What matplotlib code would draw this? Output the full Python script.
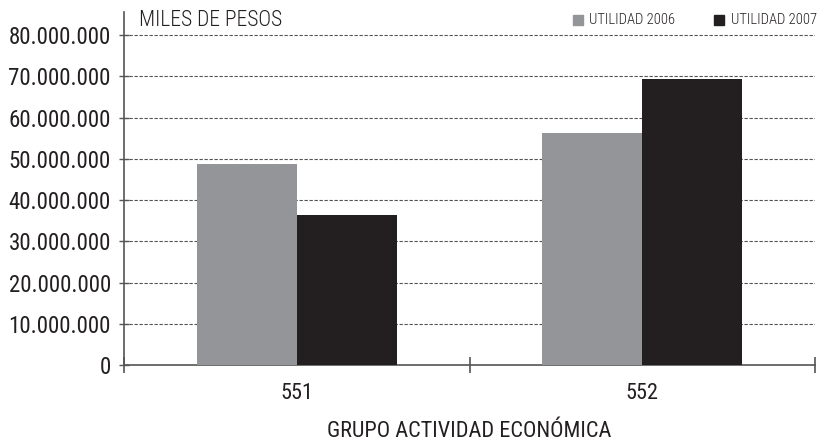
import matplotlib
matplotlib.use("Agg")
import matplotlib.pyplot as plt
from matplotlib.ticker import FuncFormatter, FixedLocator
from matplotlib.patches import Rectangle

categories = ["551", "552"]
series_names = ["UTILIDAD 2006", "UTILIDAD 2007"]
utilidad_2006 = [48700000, 56200000]
utilidad_2007 = [36400000, 69300000]
y_ticks = [0, 10000000, 20000000, 30000000, 40000000, 50000000, 60000000, 70000000, 80000000]
colors = ["#939598", "#231f20"]

FONT = ["Roboto Condensed", "DejaVu Sans"]
plt.rcParams['font.family'] = FONT
plt.rcParams['font.weight'] = 'light'

fig = plt.figure(figsize=(8.19, 4.42), dpi=100)
ax = fig.add_axes([124/819, 1 - 365/442, (815-124)/819, (365-12)/442])

x = list(range(len(categories)))
w = 0.29
ax.bar([i - w/2 for i in x], utilidad_2006, width=w, color=colors[0], zorder=3, label=series_names[0])
ax.bar([i + w/2 for i in x], utilidad_2007, width=w, color=colors[1], zorder=3, label=series_names[1])

ax.set_xlim(-0.5, 1.5)
ax.set_ylim(0, 85600000)
ax.set_yticks(y_ticks)
ax.yaxis.set_major_formatter(FuncFormatter(lambda v, p: f"{int(v):,}".replace(",", ".")))
ax.set_xticks(x)
ax.set_xticklabels(categories)
ax.xaxis.set_minor_locator(FixedLocator([-0.5, 0.5, 1.5]))

ax.tick_params(axis='x', which='major', length=0, labelsize=16, pad=13, colors="#231f20")
ax.tick_params(axis='x', which='minor', length=11.5, direction='inout', width=1.2, color="#555555")
ax.tick_params(axis='y', which='major', length=7, direction='inout', width=1, color="#555555", labelsize=16.5, pad=6, labelcolor="#231f20")
for lab in ax.get_yticklabels() + ax.get_xticklabels():
    lab.set_fontweight('normal')

for s in ["top", "right"]:
    ax.spines[s].set_visible(False)
for s in ["left", "bottom"]:
    ax.spines[s].set_color("#555555")
    ax.spines[s].set_linewidth(1.2)

ax.yaxis.grid(True, linestyle=(0, (3, 1.5)), color="#555555", linewidth=0.8, zorder=0)
ax.set_axisbelow(True)

ax.set_xlabel("GRUPO ACTIVIDAD ECONÓMICA", fontsize=16, labelpad=12, color="#231f20")
fig.text(139/819, 1 - 20/442, "MILES DE PESOS", fontsize=15.5, va="center", ha="left", color="#231f20")

# legend
for sq_x, txt_x, col, name in [(573, 589, colors[0], series_names[0]), (714, 731, colors[1], series_names[1])]:
    fig.patches.append(Rectangle((sq_x/819, 1 - 25/442), 10/819, 10/442, transform=fig.transFigure, color=col))
    fig.text(txt_x/819, 1 - 20/442, name, fontsize=10.5, va="center", ha="left", color="#231f20")

fig.savefig("out.png", dpi=100)
